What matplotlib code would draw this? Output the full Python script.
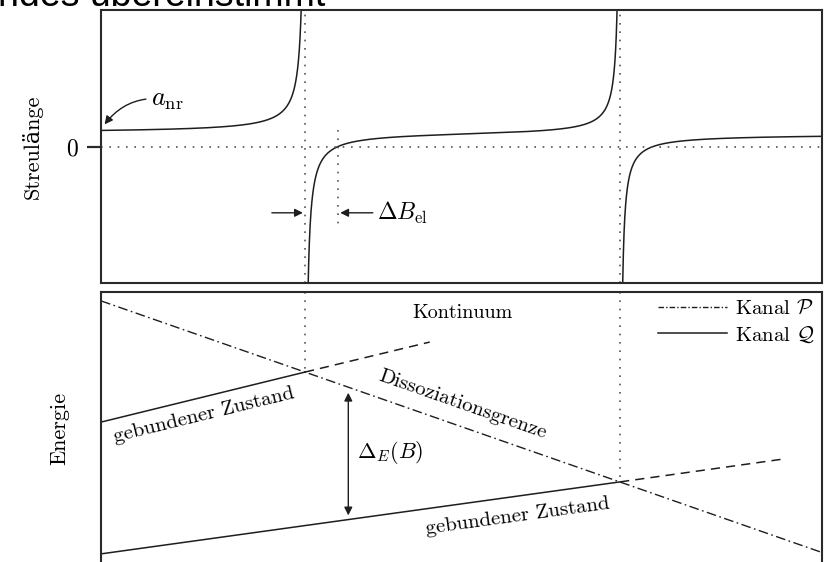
import matplotlib
matplotlib.use("Agg")
import matplotlib.pyplot as plt
from matplotlib.lines import Line2D
import numpy as np

plt.rcParams["font.family"] = ["cmr10", "DejaVu Serif"]
plt.rcParams["mathtext.fontset"] = "cm"
plt.rcParams["axes.formatter.use_mathtext"] = True

# Feshbach-Resonanzen (Magnetfeld B in willk. Einheiten)
B_res = [2.83, 7.20]        # Lage der Resonanzen
dB_el = 0.458               # Breite Delta B_el
a_nr = 1.0                  # Hintergrund-Streulaenge

# Energien der Kanaele (willk. Einheiten)
B_p = [0.0, 10.0]
E_p = [9.68, 0.63]          # Dissoziationsgrenze, Kanal P
B_q1 = [0.0, 2.83]
E_q1 = [5.32, 7.12]         # gebundener Zustand 1, Kanal Q
B_q1_cont = [2.83, 4.56]
E_q1_cont = [7.12, 8.20]
B_q2 = [0.0, 7.20]
E_q2 = [0.58, 3.17]         # gebundener Zustand 2, Kanal Q
B_q2_cont = [7.20, 9.46]
E_q2_cont = [3.17, 3.99]

B_gap = 3.43                # Position des Pfeils Delta_E(B)

ink = "#1e1e1e"
dotted = (0, (1, 4))
dashdot = (0, (7, 2.5, 1.2, 2.5))

fig = plt.figure(figsize=(8.25, 5.62), dpi=100)
ax1 = fig.add_axes([101 / 825, 1 - 283 / 562, 721 / 825, 273 / 562])
ax2 = fig.add_axes([101 / 825, -8 / 562, 721 / 825, 278 / 562])

for ax in (ax1, ax2):
    for s in ax.spines.values():
        s.set_linewidth(1.5)
        s.set_color("#2a2a2a")
    ax.set_xlim(0, 10)
    ax.set_xticks([])

# --- Streulaenge ---
B = np.linspace(0, 10, 6000)
a = a_nr * np.ones_like(B)
for b0 in B_res:
    a = a * (1 - dB_el / (B - b0))
for b0 in B_res:
    a[np.abs(B - b0) < 0.004] = np.nan
a = np.where(np.abs(a) > 14, np.nan, a)

ax1.set_ylim(-10.5, 10.5)
ax1.plot(B, a, color=ink, lw=1.1)
ax1.axhline(0, color="#555555", lw=1.2, ls=dotted)
for b0 in B_res:
    ax1.axvline(b0, color="#555555", lw=1.2, ls=dotted)
ax1.plot([B_res[0] + dB_el] * 2, [1.3, -6.4], color="#555555", lw=1.2, ls=dotted)

ax1.set_yticks([0])
ax1.set_yticklabels(["0"], fontsize=17)
ax1.tick_params(axis="y", length=10, width=1.6, pad=7, color="#2a2a2a")

ax1.annotate(r"$a_{\rm nr}$", xy=(0.05, 1.7), xytext=(0.70, 3.6),
             fontsize=19, va="center", ha="left",
             arrowprops=dict(arrowstyle="-|>", color=ink, lw=1.0,
                             connectionstyle="arc3,rad=0.3",
                             shrinkA=2, shrinkB=0, mutation_scale=12))
ax1.annotate("", xy=(B_res[0] - 0.03, -5.1), xytext=(2.37, -5.1),
             arrowprops=dict(arrowstyle="-|>", color=ink, lw=1.0,
                             shrinkA=0, shrinkB=0, mutation_scale=12))
ax1.annotate("", xy=(B_res[0] + dB_el + 0.03, -5.1), xytext=(3.77, -5.1),
             arrowprops=dict(arrowstyle="-|>", color=ink, lw=1.0,
                             shrinkA=0, shrinkB=0, mutation_scale=12))
ax1.text(3.83, -5.1, r"$\Delta B_{\rm el}$", fontsize=17, va="center", ha="left")

# --- Energie ---
ax2.set_ylim(0, 10)
ax2.set_yticks([])
ax2.plot(B_p, E_p, color=ink, lw=1.0, ls=dashdot)
ax2.plot(B_q1, E_q1, color=ink, lw=1.1)
ax2.plot(B_q1_cont, E_q1_cont, color=ink, lw=1.1, ls=(0, (6, 4)))
ax2.plot(B_q2, E_q2, color=ink, lw=1.1)
ax2.plot(B_q2_cont, E_q2_cont, color=ink, lw=1.1, ls=(0, (6, 4)))
ax2.plot([B_q1[1]] * 2, [10, E_q1[1]], color="#555555", lw=1.2, ls=dotted)
ax2.plot([B_q2[1]] * 2, [10, E_q2[1]], color="#555555", lw=1.2, ls=dotted)

e_top = np.interp(B_gap, B_p, E_p) - 0.2
e_bot = np.interp(B_gap, B_q2, E_q2) + 0.15
ax2.annotate("", xy=(B_gap, e_top), xytext=(B_gap, e_bot),
             arrowprops=dict(arrowstyle="<|-|>", color=ink, lw=1.0,
                             shrinkA=0, shrinkB=0, mutation_scale=12))
ax2.text(B_gap + 0.12, 4.21, r"$\Delta_E(B)$", fontsize=16, va="center", ha="left")

ax2.text(5.02, 9.24, "Kontinuum", fontsize=14.5, ha="center", va="center")


def slope_angle(bx, ey):
    return np.degrees(np.arctan2(ey[1] - ey[0], bx[1] - bx[0]))


ax2.text(1.43, 5.58, "gebundener Zustand", fontsize=15, ha="center", va="center",
         rotation=slope_angle(B_q1, E_q1), rotation_mode="anchor",
         transform_rotates_text=True)
ax2.text(5.01, 5.94, "Dissoziationsgrenze", fontsize=15, ha="center", va="center",
         rotation=slope_angle(B_p, E_p), rotation_mode="anchor",
         transform_rotates_text=True)
ax2.text(5.78, 1.94, "gebundener Zustand", fontsize=15, ha="center", va="center",
         rotation=slope_angle(B_q2, E_q2), rotation_mode="anchor",
         transform_rotates_text=True)

handles = [Line2D([], [], color=ink, lw=1.0, ls=(0, (4, 1.5, 1, 1.5))),
           Line2D([], [], color=ink, lw=1.1)]
ax2.legend(handles, [r"Kanal $\mathcal{P}$", r"Kanal $\mathcal{Q}$"],
           loc="upper right", frameon=False, fontsize=15, handlelength=3.3,
           handletextpad=0.4, labelspacing=0.3, borderaxespad=0.15,
           borderpad=0.2)

fig.text(32 / 825, 1 - 147 / 562, "Streulänge", rotation=90, fontsize=16,
         ha="center", va="center")
fig.text(60 / 825, 1 - 428 / 562, "Energie", rotation=90, fontsize=16,
         ha="center", va="center")

fig.text(-2 / 825, 1 - 6 / 562, "ndes übereinstimmt", fontsize=27,
         family="Liberation Sans", ha="left", va="baseline")

fig.savefig("out.png", dpi=100)
